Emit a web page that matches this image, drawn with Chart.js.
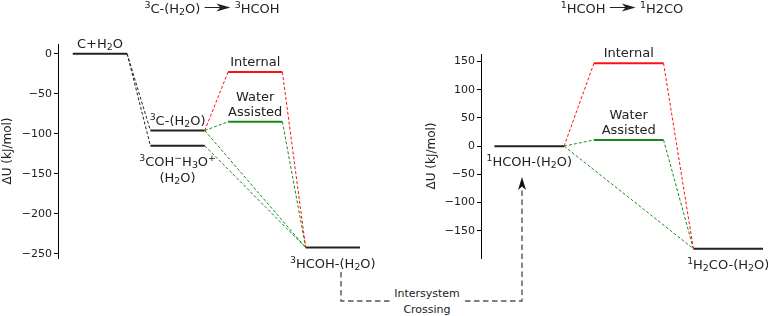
<!DOCTYPE html>
<html><head><meta charset="utf-8">
<script src="https://cdn.jsdelivr.net/npm/chart.js@4/dist/chart.umd.min.js"></script>
<style>
html,body{margin:0;padding:0;background:#fff;width:768px;height:316px;overflow:hidden;font-family:"DejaVu Sans",sans-serif;color:#222}
body{position:relative}
canvas{position:absolute;top:0}
.title{position:absolute;top:0;font-size:13px;white-space:nowrap;transform:translateX(-50%);line-height:17px}
.title sup{font-size:9.5px;vertical-align:5px;line-height:0}
.title sub{font-size:9.5px;vertical-align:-2px;line-height:0}
.isc{position:absolute;left:427px;top:286px;transform:translateX(-50%);font-size:11px;line-height:16px;text-align:center;background:#fff;padding:0 3px;color:#222}
svg{position:absolute;left:0;top:0}
</style>
</head><body>
<canvas id="left" width="384" height="316" style="left:0"></canvas>
<canvas id="right" width="384" height="316" style="left:384px"></canvas>
<div class="title" style="left:212px"><sup>3</sup>C-(H<sub>2</sub>O) <svg width="26" height="9" style="position:static;vertical-align:1px" viewBox="0 0 26 9"><line x1="0" y1="4.5" x2="18" y2="4.5" stroke="#222" stroke-width="1.2"/><polygon points="26,4.5 12,0.5 16,4.5 12,8.5" fill="#222"/></svg> <sup>3</sup>HCOH</div>
<div class="title" style="left:622px"><sup>1</sup>HCOH <svg width="26" height="9" style="position:static;vertical-align:1px" viewBox="0 0 26 9"><line x1="0" y1="4.5" x2="18" y2="4.5" stroke="#222" stroke-width="1.2"/><polygon points="26,4.5 12,0.5 16,4.5 12,8.5" fill="#222"/></svg> <sup>1</sup>H2CO</div>
<svg width="768" height="316" style="pointer-events:none">
  <path d="M341,272 V301 H522 V188" fill="none" stroke="#555" stroke-width="1.4" stroke-dasharray="5.5,3.5"/>
  <polygon points="522,177 518,190 522,186.5 526,190" fill="#111"/>
</svg>
<div class="isc">Intersystem<br>Crossing</div>
<script>
// ---------- data ----------
const leftLevelNames   = ['C+H_{2}O', '^{3}C-(H_{2}O)', '^{3}COH^{−}H_{3}O^{+}\n(H_{2}O)', 'Internal', 'Water\nAssisted', '^{3}HCOH-(H_{2}O)'];
const leftLevelSteps   = [0, 1, 1, 2, 2, 3];
const leftLevelEnergy  = [0, -96, -115, -23, -85, -242];
const leftLevelKind    = ['state', 'state', 'state', 'internal', 'water', 'state'];
const leftLabelSide    = ['above', 'above', 'below', 'above', 'above', 'below'];
const leftEdges        = [[0,1],[0,2],[1,3],[1,4],[1,5],[2,5],[3,5],[4,5]];
const leftEdgeKind     = ['state','state','internal','water','water','water','internal','water'];
const leftTicks        = [0, -50, -100, -150, -200, -250];

const rightLevelNames  = ['^{1}HCOH-(H_{2}O)', 'Internal', 'Water\nAssisted', '^{1}H_{2}CO-(H_{2}O)'];
const rightLevelSteps  = [0, 1, 1, 2];
const rightLevelEnergy = [0, 147, 11, -182];
const rightLevelKind   = ['state', 'internal', 'water', 'state'];
const rightLabelSide   = ['below', 'above', 'above', 'below'];
const rightEdges       = [[0,1],[0,2],[0,3],[1,3],[2,3]];
const rightEdgeKind    = ['internal','water','water','internal','water'];
const rightTicks       = [150, 100, 50, 0, -50, -100, -150];

// ---------- styles ----------
const LEVEL_W = 0.7;
const COLORS = {state:'#222222', internal:'#ff1010', water:'#168a16'};
const FONT = '"DejaVu Sans", sans-serif';
const LABEL_SIZE = 13;

function parseRich(s){
  const segs = []; let i = 0, buf = '';
  while (i < s.length){
    const c = s[i];
    if ((c === '^' || c === '_') && s[i+1] === '{'){
      if (buf) { segs.push({t:buf, k:'n'}); buf=''; }
      const end = s.indexOf('}', i);
      segs.push({t:s.slice(i+2, end), k: c === '^' ? 'sup' : 'sub'});
      i = end + 1;
    } else { buf += c; i++; }
  }
  if (buf) segs.push({t:buf, k:'n'});
  return segs;
}
function drawRich(ctx, str, cx, baseY){
  const segs = parseRich(str);
  const big = LABEL_SIZE + 'px ' + FONT, small = (LABEL_SIZE*0.72).toFixed(2) + 'px ' + FONT;
  let w = 0;
  segs.forEach(sg => { ctx.font = sg.k === 'n' ? big : small; sg.w = ctx.measureText(sg.t).width; w += sg.w; });
  let x = cx - w/2;
  ctx.textAlign = 'left';
  segs.forEach(sg => {
    ctx.font = sg.k === 'n' ? big : small;
    const dy = sg.k === 'sup' ? -LABEL_SIZE*0.36 : sg.k === 'sub' ? LABEL_SIZE*0.16 : 0;
    ctx.fillText(sg.t, x, baseY + dy);
    x += sg.w;
  });
}

const labelPlugin = {
  id:'levelLabels',
  afterDatasetsDraw(chart, args, opts){
    const ctx = chart.ctx, xs = chart.scales.x, ys = chart.scales.y;
    ctx.save();
    ctx.fillStyle = '#222';
    ctx.textBaseline = 'alphabetic';
    opts.names.forEach((name, i) => {
      const cx = xs.getPixelForValue(opts.steps[i] + LEVEL_W/2);
      const y = ys.getPixelForValue(opts.energy[i]);
      const lines = name.split('\n');
      if (opts.side[i] === 'above') {
        lines.slice().reverse().forEach((ln, k) => drawRich(ctx, ln, cx, y - 6 - k*15));
      } else {
        lines.forEach((ln, k) => drawRich(ctx, ln, cx, y + 20 + k*16));
      }
    });
    ctx.restore();
  }
};

function fmt(v){ return v < 0 ? '\u2212' + Math.abs(v) : String(v); }

function build(id, names, steps, energy, kind, side, edges, edgeKind, ticks, cfg){
  const datasets = [];
  edges.forEach((e, k) => {
    const a = e[0], b = e[1];
    datasets.push({
      data:[{x:steps[a]+LEVEL_W, y:energy[a]}, {x:steps[b], y:energy[b]}],
      borderColor: COLORS[edgeKind[k]], borderWidth:1, borderDash:[3,2],
      pointRadius:0, fill:false, tension:0
    });
  });
  names.forEach((n, i) => {
    datasets.push({
      data:[{x:steps[i], y:energy[i]}, {x:steps[i]+LEVEL_W, y:energy[i]}],
      borderColor: COLORS[kind[i]], borderWidth:2, borderCapStyle:'butt',
      pointRadius:0, fill:false, tension:0
    });
  });
  return new Chart(document.getElementById(id), {
    type:'line',
    data:{datasets},
    plugins:[labelPlugin],
    options:{
      responsive:false, animation:false, clip:false,
      layout:{autoPadding:false, padding:cfg.padding},
      plugins:{legend:{display:false}, tooltip:{enabled:false},
        levelLabels:{names, steps, energy, side}},
      scales:{
        x:{type:'linear', display:false, min:cfg.xMin, max:cfg.xMax},
        y:{type:'linear', min:cfg.yMin, max:cfg.yMax,
          afterBuildTicks: s => { s.ticks = ticks.map(v => ({value:v})); },
          afterFit: s => { s.width = cfg.axisW; },
          border:{display:true, color:'#000', width:1},
          grid:{display:true, drawOnChartArea:false, drawTicks:true, tickLength:4, color:'#000'},
          ticks:{font:{family:FONT, size:11}, color:'#222', padding:2, callback:v => fmt(v)},
          title:{display:true, text:'ΔU (kJ/mol)', font:{family:FONT, size:12}, color:'#222', padding:{top:1, bottom:0}}
        }
      }
    }
  });
}

build('left', leftLevelNames, leftLevelSteps, leftLevelEnergy, leftLevelKind, leftLabelSide,
      leftEdges, leftEdgeKind, leftTicks,
      {xMin:-0.19, xMax:3.88, yMin:-255.1, yMax:12.1, axisW:58,
       padding:{left:0, top:44, right:10, bottom:58}});
build('right', rightLevelNames, rightLevelSteps, rightLevelEnergy, rightLevelKind, rightLabelSide,
      rightEdges, rightEdgeKind, rightTicks,
      {xMin:-0.135, xMax:2.75, yMin:-198.5, yMax:163.5, axisW:57,
       padding:{left:40, top:54, right:0, bottom:58}});
</script>
</body></html>
